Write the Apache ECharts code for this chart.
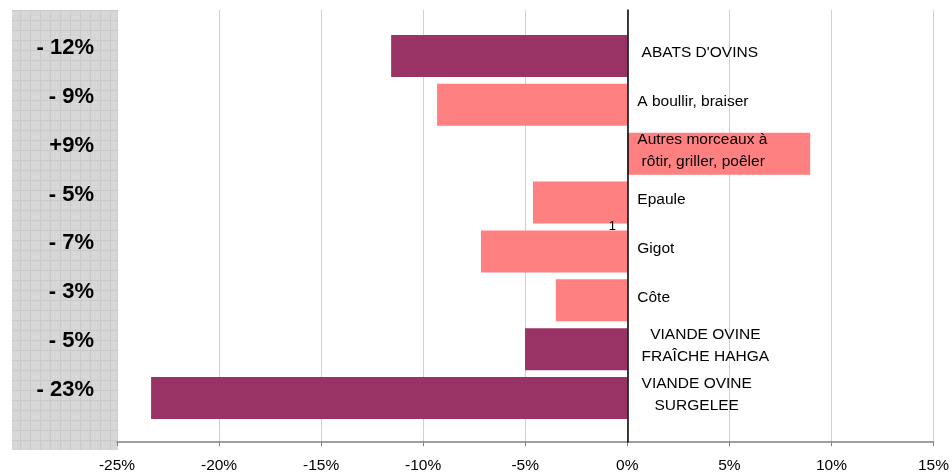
<!DOCTYPE html>
<html>
<head>
<meta charset="utf-8">
<script src="https://cdn.jsdelivr.net/npm/echarts@6/dist/echarts.min.js"></script>
<style>
html,body{margin:0;padding:0;background:#fff;}
#chart{width:952px;height:474px;}
</style>
</head>
<body>
<div id="chart"></div>
<script>
// ---- data ----
const categories = [
  " ABATS D'OVINS",
  "A boullir, braiser",
  "Autres morceaux à\n rôtir, griller, poêler",
  "Epaule",
  "Gigot",
  "Côte",
  "   VIANDE OVINE\n FRAÎCHE HAHGA",
  " VIANDE OVINE\n    SURGELEE"
];
const values = [-11.57, -9.32, 8.96, -4.62, -7.17, -3.50, -5.01, -23.33];
const groups = ["aggregate", "cut", "cut", "cut", "cut", "cut", "aggregate", "aggregate"];
const changeLabels = ["- 12%", "- 9%", "+9%", "- 5%", "- 7%", "- 3%", "- 5%", "- 23%"];
const xMin = -25, xMax = 15, xStep = 5;

// ---- styles ----
const groupColor = { aggregate: "#993366", cut: "#FF8080" };
const FONT = "'Liberation Sans', Arial, sans-serif";

function makePattern() {
  const c = document.createElement('canvas');
  c.width = 10; c.height = 10;
  const g = c.getContext('2d');
  g.fillStyle = '#d6d6d6'; g.fillRect(0, 0, 10, 10);
  g.fillStyle = '#cacaca';
  g.fillRect(0, 0, 10, 1); g.fillRect(0, 0, 1, 10);
  g.fillStyle = '#dfdfdf';
  g.fillRect(3, 3, 1, 1); g.fillRect(6, 6, 1, 1); g.fillRect(3, 6, 1, 1); g.fillRect(6, 3, 1, 1);
  return c;
}

const chart = echarts.init(document.getElementById('chart'), null, { renderer: 'canvas' });
const seriesData = values.map((v, i) => [v, i]);

chart.setOption({
  animation: false,
  backgroundColor: '#ffffff',
  grid: { left: 117, right: 16, top: 10, bottom: 32, containLabel: false },
  graphic: [
    { type: 'rect', z: 0, shape: { x: 12, y: 10, width: 106, height: 440 },
      style: { fill: { image: makePattern(), repeat: 'repeat' } } },
    { type: 'text', z: 10, style: { text: '1', x: 616, y: 226, align: 'right', verticalAlign: 'middle',
      font: "13px " + FONT, fill: '#000' } }
  ],
  xAxis: {
    type: 'value', min: xMin, max: xMax, interval: xStep,
    axisLine: { show: true, onZero: false, lineStyle: { color: '#808080', width: 1.5 } },
    axisTick: { show: true, length: 4, lineStyle: { color: '#808080' } },
    axisLabel: { formatter: v => v + '%', color: '#000', fontFamily: FONT, fontSize: 15.5, margin: 16 },
    splitLine: { show: true, lineStyle: { color: '#d0d0d0', width: 1 } }
  },
  yAxis: {
    type: 'value', min: -0.94, max: 7.9, inverse: true, z: 5,
    axisLine: { show: true, onZero: true, lineStyle: { color: '#000', width: 1.5 } },
    axisTick: { show: false }, axisLabel: { show: false }, splitLine: { show: false }
  },
  series: [{
    type: 'custom',
    data: seriesData,
    clip: false,
    renderItem: function (params, api) {
      const v = api.value(0), i = api.value(1);
      const zero = api.coord([0, i]);
      const end = api.coord([v, i]);
      const left = api.coord([xMin, i]);
      const h = api.size([0, 1])[1] * 0.86;
      const x0 = Math.min(zero[0], end[0]);
      const w = Math.abs(end[0] - zero[0]);
      return {
        type: 'group',
        children: [
          { type: 'rect', shape: { x: x0, y: zero[1] - h / 2, width: w, height: h },
            style: { fill: groupColor[groups[i]] } },
          { type: 'text', style: { text: categories[i], x: zero[0] + 10, y: zero[1] - 3,
              align: 'left', verticalAlign: 'middle', font: "15.5px " + FONT, fill: '#000', lineHeight: 22 } },
          { type: 'text', style: { text: changeLabels[i], x: left[0] - 23, y: zero[1] - 8,
              align: 'right', verticalAlign: 'middle', font: "bold 22px " + FONT, fill: '#000' } }
        ]
      };
    }
  }]
});
</script>
</body>
</html>
